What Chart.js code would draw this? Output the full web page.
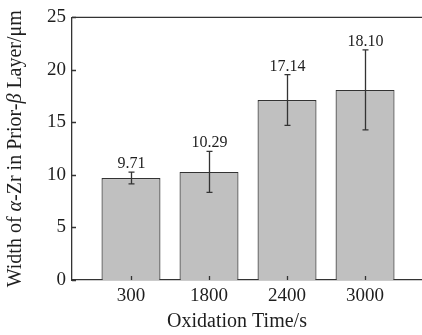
<!DOCTYPE html>
<html>
<head>
<meta charset="utf-8">
<script src="https://cdn.jsdelivr.net/npm/chart.js@4.4.0/dist/chart.umd.min.js"></script>
<style>
  html,body{margin:0;padding:0;background:#fff;}
  #wrap{width:422px;height:335px;}
</style>
</head>
<body>
<div id="wrap"><canvas id="c" width="422" height="335"></canvas></div>
<script>
/* DATA */
const times = ['300', '1800', '2400', '3000'];
const widths = [9.71, 10.29, 17.14, 18.10];
const errors = [0.56, 1.95, 2.42, 3.8];
const yTicks = [0, 5, 10, 15, 20, 25];

const SERIF = '"Liberation Serif", "DejaVu Serif", serif';
const INK = '#1e1e1e';

/* extra drawing: frame top, inward ticks, error bars, labels, titles */
const decor = {
  id: 'decor',
  afterDatasetsDraw(chart){
    const {ctx, chartArea:a, scales:{x, y}} = chart;
    ctx.save();
    ctx.strokeStyle = '#333';
    ctx.lineWidth = 1.3;

    // top frame line
    ctx.beginPath();
    ctx.moveTo(a.left, a.top); ctx.lineTo(a.right, a.top);
    ctx.stroke();

    // inward ticks
    ctx.beginPath();
    yTicks.forEach(v=>{
      const py = Math.round(y.getPixelForValue(v)) + .5;
      ctx.moveTo(a.left, py); ctx.lineTo(a.left + 4, py);
    });
    times.forEach((_,i)=>{
      const px = Math.round(x.getPixelForValue(i+1)) + .5;
      ctx.moveTo(px, a.bottom); ctx.lineTo(px, a.bottom - 4);
    });
    ctx.stroke();

    // error bars + value labels
    ctx.font = '16px ' + SERIF;
    ctx.fillStyle = INK;
    ctx.textAlign = 'center';
    ctx.textBaseline = 'alphabetic';
    widths.forEach((w,i)=>{
      const px = Math.round(x.getPixelForValue(i+1)) + .5;
      const top = y.getPixelForValue(w + errors[i]);
      const bot = y.getPixelForValue(w - errors[i]);
      ctx.beginPath();
      ctx.moveTo(px, top); ctx.lineTo(px, bot);
      ctx.moveTo(px-3, top); ctx.lineTo(px+3, top);
      ctx.moveTo(px-3, bot); ctx.lineTo(px+3, bot);
      ctx.stroke();
      ctx.fillText(w.toFixed(2), px, top - 4);
    });

    // x title
    ctx.font = '20px ' + SERIF;
    ctx.fillText('Oxidation Time/s', 237, 327);

    // y title with italic greek letters
    const parts = [
      ['Width of ', false], ['α', true], ['-Zr in Prior-', false], ['β', true], [' Layer/μm', false]
    ];
    const fontOf = it => (it ? 'italic ' : '') + '20px ' + SERIF;
    let total = 0;
    parts.forEach(([t,it])=>{ ctx.font = fontOf(it); total += ctx.measureText(t).width; });
    ctx.translate(20.5, (a.top + a.bottom)/2);
    ctx.rotate(-Math.PI/2);
    ctx.textAlign = 'left';
    let cx = -total/2;
    parts.forEach(([t,it])=>{
      ctx.font = fontOf(it);
      ctx.fillText(t, cx, 0);
      cx += ctx.measureText(t).width;
    });
    ctx.restore();
  }
};

new Chart(document.getElementById('c'), {
  type: 'bar',
  data: {
    datasets: [{
      data: widths.map((w,i)=>({x: i+1, y: w})),
      backgroundColor: '#c0c0c0',
      borderColor: '#333',
      borderWidth: 1.2,
      categoryPercentage: 1,
      barPercentage: 0.756
    }]
  },
  options: {
    responsive: false,
    animation: false,
    layout: {padding: {top: 15, right: 0, left: 0, bottom: 0}},
    plugins: {legend: {display: false}, tooltip: {enabled: false}},
    scales: {
      x: {
        type: 'linear',
        offset: false,
        min: 0.244, max: 4.73,
        afterBuildTicks: s => { s.ticks = times.map((_,i)=>({value: i+1})); },
        afterFit: s => { s.height = 55; },
        grid: {display: false, drawTicks: false, offset: false},
        border: {color: '#333', width: 1.3},
        ticks: {
          padding: 5,
          color: INK,
          font: {family: SERIF, size: 19},
          callback: v => times[v-1]
        }
      },
      y: {
        min: 0, max: 25,
        afterBuildTicks: s => { s.ticks = yTicks.map(v=>({value: v})); },
        afterFit: s => { s.width = 72; },
        grid: {display: false, drawTicks: false},
        border: {color: '#333', width: 1.3},
        ticks: {
          padding: 6,
          color: INK,
          font: {family: SERIF, size: 19}
        }
      }
    }
  },
  plugins: [decor]
});
</script>
</body>
</html>
